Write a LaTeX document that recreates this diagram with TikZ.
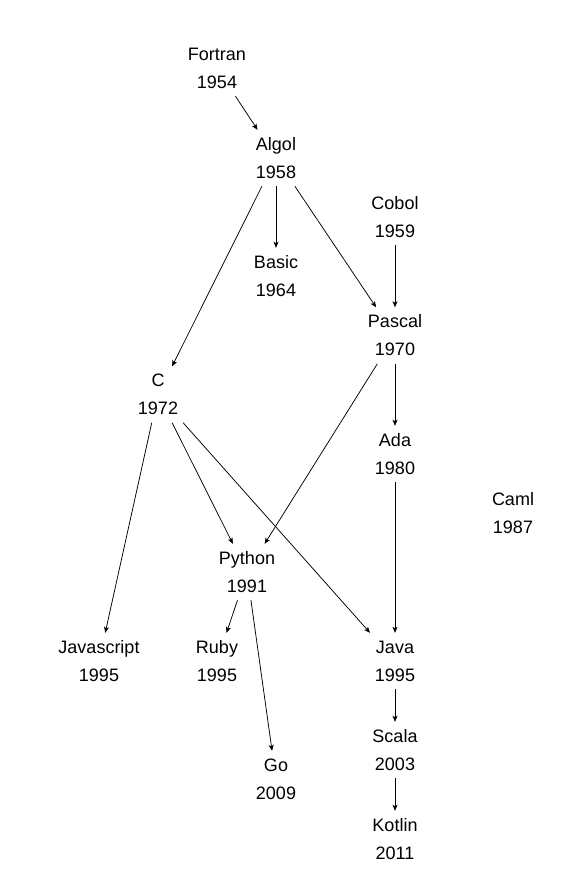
\documentclass[tikz,border=0pt]{standalone}
\usepackage{fontspec}
\setmainfont{Liberation Sans}
\usetikzlibrary{arrows.meta}
\begin{document}
\begin{tikzpicture}[x=1pt,y=-1pt,
  lang/.style={rectangle, inner sep=0pt, minimum height=56pt, minimum width=70pt,
    align=center, font=\fontsize{18}{28}\selectfont, text=black},
  edge/.style={-{Stealth[length=6pt,width=5pt,inset=1.5pt]}, line width=0.75pt, draw=black}]
\useasboundingbox (0,0) rectangle (587,884);
\node[lang] (fortran) at (217,68) {Fortran\\1954};
\node[lang] (algol) at (276,158) {Algol\\1958};
\node[lang] (cobol) at (395,217) {Cobol\\1959};
\node[lang] (basic) at (276,276) {Basic\\1964};
\node[lang] (pascal) at (395,335.5) {Pascal\\1970};
\node[lang] (c) at (158,394.5) {C\\1972};
\node[lang] (ada) at (395,454) {Ada\\1980};
\node[lang] (caml) at (513,513) {Caml\\1987};
\node[lang] (python) at (247,572) {Python\\1991};
\node[lang] (js) at (99,661) {Javascript\\1995};
\node[lang] (ruby) at (217,661) {Ruby\\1995};
\node[lang] (java) at (395,661) {Java\\1995};
\node[lang] (scala) at (395,750) {Scala\\2003};
\node[lang] (go) at (276,779) {Go\\2009};
\node[lang] (kotlin) at (395,839) {Kotlin\\2011};
\draw[edge] (fortran) -- (algol);
\draw[edge] (algol) -- (basic);
\draw[edge] (algol) -- (c);
\draw[edge] (algol) -- (pascal);
\draw[edge] (cobol) -- (pascal);
\draw[edge] (pascal) -- (ada);
\draw[edge] (pascal) -- (python);
\draw[edge] (c) -- (js);
\draw[edge] (c) -- (python);
\draw[edge] (c) -- (java);
\draw[edge] (ada) -- (java);
\draw[edge] (python) -- (ruby);
\draw[edge] (python) -- (go);
\draw[edge] (java) -- (scala);
\draw[edge] (scala) -- (kotlin);
\end{tikzpicture}
\end{document}
